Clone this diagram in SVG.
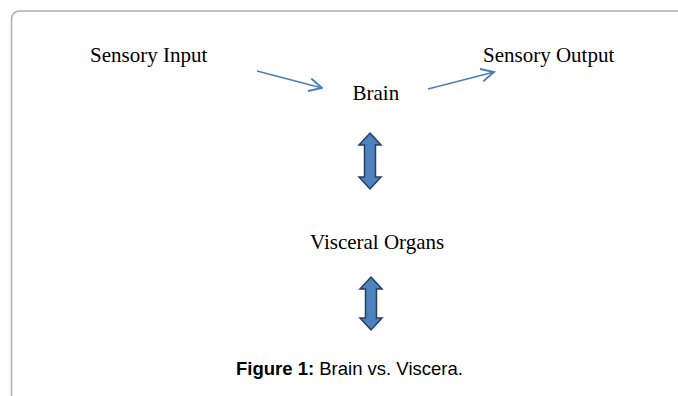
<svg xmlns="http://www.w3.org/2000/svg" width="678" height="396" viewBox="0 0 678 396">
<defs>
<style>
.lbl{font-family:"Liberation Serif","Times New Roman",serif;font-size:21px;fill:#000}
.cap{font-family:"Liberation Sans",Arial,sans-serif;font-size:18.5px;fill:#000}
.ln{fill:none;stroke:#4a7ebb;stroke-width:1.4}
.dbl{fill:#4f81bd;stroke:#243f60;stroke-width:1.5;stroke-linejoin:miter}
</style>
<marker id="open" viewBox="0 0 10 10" refX="9" refY="5" markerWidth="16" markerHeight="16" markerUnits="userSpaceOnUse" orient="auto">
<path d="M1,1 L9,5 L1,9" fill="none" stroke="#4a7ebb" stroke-width="1.2"/>
</marker>
</defs>
<rect width="678" height="396" fill="#fff"/>
<path d="M11.5,420 L11.5,20 Q11.5,11 20.5,11 L700,11" fill="none" stroke="#b0b0b0" stroke-width="1.5"/>
<g id="sensory-input"><text class="lbl" x="90" y="62">Sensory Input</text></g>
<g id="sensory-output"><text class="lbl" x="483" y="62">Sensory Output</text></g>
<g id="brain"><text class="lbl" x="352.5" y="100">Brain</text></g>
<g id="visceral-organs"><text class="lbl" x="310" y="249">Visceral Organs</text></g>
<g id="connectors">
<line class="ln" x1="257" y1="71" x2="322" y2="88" marker-end="url(#open)"/>
<line class="ln" x1="428" y1="89" x2="494" y2="72" marker-end="url(#open)"/>
<path class="dbl" d="M370,133 L381,145 L375.5,145 L375.5,177 L381,177 L370,189 L359,177 L364.5,177 L364.5,145 L359,145 Z"/>
<path class="dbl" d="M371,277 L382,289 L376.5,289 L376.5,318 L382,318 L371,330 L360,318 L365.5,318 L365.5,289 L360,289 Z"/>
</g>
<g id="caption"><text class="cap" x="236" y="375"><tspan font-weight="bold">Figure 1:</tspan> Brain vs. Viscera.</text></g>
</svg>
